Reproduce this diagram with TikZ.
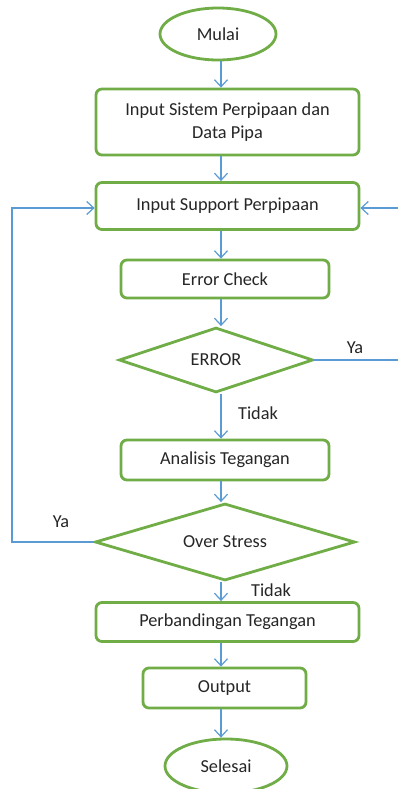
\documentclass[tikz,border=0pt]{standalone}
\usepackage{fontspec}
\setmainfont{Carlito}
\usetikzlibrary{shapes.geometric,arrows.meta}
\definecolor{boxgreen}{HTML}{70AD47}
\definecolor{lineblue}{HTML}{5B9BD5}
\definecolor{ink}{HTML}{262626}
\newcommand{\chartfont}{\fontsize{18.3}{23}\selectfont}
\tikzset{
  stepbox/.style={draw=boxgreen, line width=2.8pt, rounded corners=6pt, fill=white,
    text=ink, font=\chartfont, align=center, inner sep=0pt},
  terminal/.style={ellipse, draw=boxgreen, line width=2.8pt, fill=white,
    text=ink, font=\chartfont, inner sep=0pt},
  decision/.style={diamond, draw=boxgreen, line width=2.8pt, fill=white,
    text=ink, font=\chartfont, inner sep=0pt, aspect=3},
  flow/.style={draw=lineblue, line width=1.2pt},
  arr/.style={flow, -{Straight Barb[length=7pt,width=13pt,line width=1.2pt]}},
  lbl/.style={text=ink, font=\chartfont, inner sep=0pt}
}
\begin{document}
\begin{tikzpicture}[x=1pt,y=-1pt]
\useasboundingbox (0,0) rectangle (398,789);
\fill[white] (0,0) rectangle (398,789);

% main column
\node[terminal, minimum width=116pt, minimum height=52pt] (start) at (218,34) {Mulai};
\node[stepbox, minimum width=263pt, minimum height=66pt] (sys) at (227.5,122) {Input Sistem Perpipaan dan\\Data Pipa};
\node[stepbox, minimum width=263pt, minimum height=47pt] (sup) at (227.5,206) {Input Support Perpipaan};
\node[stepbox, minimum width=208pt, minimum height=38pt] (chk) at (225,279) {Error Check};
\node[decision, minimum width=194pt, minimum height=65pt] (err) at (216,360) {ERROR};
\node[stepbox, minimum width=208pt, minimum height=40pt] (ana) at (225,460) {Analisis Tegangan};
\node[decision, minimum width=260pt, minimum height=77pt] (ovs) at (225,542) {Over Stress};
\node[stepbox, minimum width=263pt, minimum height=39pt] (cmp) at (227.5,622) {Perbandingan Tegangan};
\node[stepbox, minimum width=163pt, minimum height=40pt] (out) at (224.5,688) {Output};
\node[terminal, minimum width=122pt, minimum height=54pt] (end) at (226,766) {Selesai};

% vertical flow line
\coordinate (xl) at (221,0);
\draw[arr] (start.south -| xl) -- (sys.north -| xl);
\draw[arr] (sys.south -| xl) -- (sup.north -| xl);
\draw[arr] (sup.south -| xl) -- (chk.north -| xl);
\draw[arr] (chk.south -| xl) -- (err.north -| xl);
\draw[arr] (err.south -| xl) -- (ana.north -| xl);
\draw[arr] (ana.south -| xl) -- (ovs.north -| xl);
\draw[arr] (ovs.south -| xl) -- (cmp.north -| xl);
\draw[arr] (cmp.south -| xl) -- (out.north -| xl);
\draw[arr] (out.south -| xl) -- (end.north -| xl);

% feedback lines
\coordinate (rin) at (398,208);
\coordinate (rout) at (398,360);
\coordinate (lbot) at (12,542);
\coordinate (ltop) at (12,208);
\draw[arr] (rin) -- (sup.east |- rin);
\draw[flow] (err.east) -- (rout);
\draw[arr] (ovs.west) -- (lbot) -- (ltop) -- (sup.west |- ltop);

% branch labels
\node[lbl] (ya1) at (355,348) {Ya};
\node[lbl] (td1) at (258,413) {Tidak};
\node[lbl] (ya2) at (61,522) {Ya};
\node[lbl] (td2) at (271,590) {Tidak};
\end{tikzpicture}
\end{document}
